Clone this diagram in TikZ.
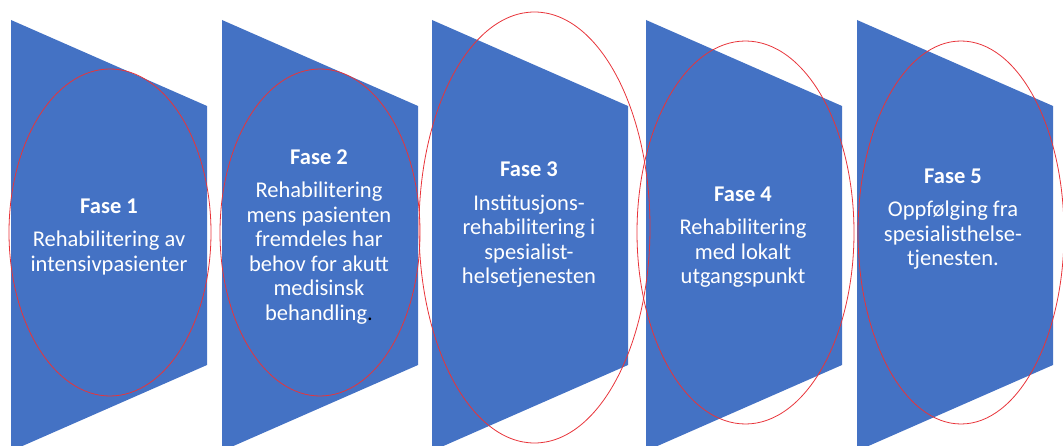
\documentclass[tikz,border=0pt]{standalone}
\usepackage{fontspec}
\setmainfont{Carlito}
\definecolor{phaseblue}{RGB}{68,114,196}
\definecolor{ringred}{RGB}{232,52,58}
\begin{document}
\begin{tikzpicture}[x=1pt,y=-1pt,
  phase/.style={fill=phaseblue,draw=none},
  ring/.style={draw=ringred,line width=0.8pt},
  label/.style={text=white,align=center,
    font=\fontsize{22.5}{24.5}\selectfont,inner sep=0pt}]
\useasboundingbox (0,0) rectangle (1063,446);
\clip (0,0) rectangle (1063,446);
% arrow-like trapezoids, one per phase
\foreach \l in {11,222,432,646,857}{
  \fill[phase] (\l,20) -- (\l+196,106) -- (\l+196,365) -- (\l,451) -- cycle;
}
% red outline rings
\draw[ring] (110,232.5) ellipse [x radius=101,y radius=163.5];
\draw[ring] (320,232.5) ellipse [x radius=100,y radius=163.5];
\draw[ring] (534.5,227.5) ellipse [x radius=115.5,y radius=215.5];
\draw[ring] (745.5,232.5) ellipse [x radius=108.5,y radius=191.5];
\draw[ring] (961,232.5) ellipse [x radius=103,y radius=191.5];
% phase descriptions
\node[label] (f1) at (109,237) {{\bfseries Fase 1}\\[9pt]Rehabilitering av\\intensivpasienter};
\node[label] (f2) at (319,237) {{\bfseries Fase 2}\\[9pt]Rehabilitering\\mens pasienten\\fremdeles har\\behov for akutt\\medisinsk\\behandling\textcolor{black}{.}};
\node[label] (f3) at (529,225) {{\bfseries Fase 3}\\[9pt]Institusjons-\\rehabilitering i\\spesialist-\\helsetjenesten};
\node[label] (f4) at (743,237) {{\bfseries Fase 4}\\[9pt]Rehabilitering\\med lokalt\\utgangspunkt};
\node[label] (f5) at (953,219) {{\bfseries Fase 5}\\[9pt]Oppfølging fra\\spesialisthelse-\\tjenesten.};
\end{tikzpicture}
\end{document}
